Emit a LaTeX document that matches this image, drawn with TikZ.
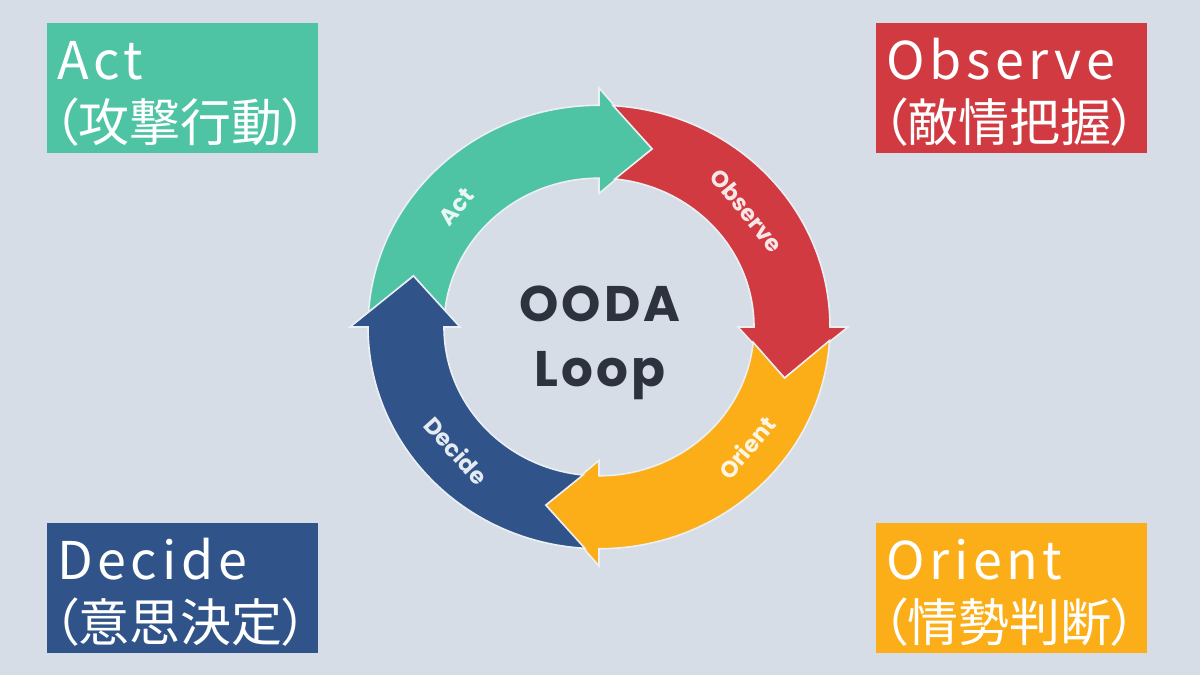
\documentclass[tikz,border=0pt]{standalone}
\usepackage{fontspec}
\usepackage{tikz}
\usetikzlibrary{positioning,calc}
\newfontfamily\cjk{Noto Sans CJK JP}[RawFeature=+palt]
\newfontfamily\cjkwide{Noto Sans CJK JP}[LetterSpace=9]
\newfontfamily\loopfont{Poppins}[LetterSpace=6]
\newfontfamily\lblfont{Poppins}

\definecolor{bgcol}{RGB}{214,221,230}
\definecolor{actgreen}{RGB}{78,196,164}
\definecolor{obsred}{RGB}{208,58,64}
\definecolor{oriorange}{RGB}{251,174,23}
\definecolor{decblue}{RGB}{48,84,138}
\definecolor{inkdark}{RGB}{45,50,62}
\definecolor{rimcol}{RGB}{236,240,244}

% radii of the ring
\def\rO{231}
\def\rI{155}
\def\rM{193}
\def\rHo{249}
\def\rHi{139}

\tikzset{
  box/.style={rectangle, minimum width=271, minimum height=130, inner sep=0pt},
  boxtxt/.style={text=white, inner sep=0pt, font=\cjk\fontsize{51}{60}\selectfont},
  boxen/.style={text=white, inner sep=0pt, font=\cjkwide\fontsize{52}{60}\selectfont},
  ringlbl/.style={text=white, text opacity=0.88, inner sep=0pt, font=\lblfont\bfseries\fontsize{23}{26}\selectfont},
  centertxt/.style={text=inkdark, inner sep=0pt, font=\loopfont\bfseries\fontsize{50}{60}\selectfont},
  rim/.style={draw=rimcol, line width=1.6pt, line join=miter}
}

% one arrow of the ring: colour, tail angle, head angle
\newcommand\oodaarrow[3]{%
  \path[fill=#1, rim] (#2-3.5:\rO) arc[start angle=#2-3.5, end angle=#3, radius=\rO]
    -- (#3:\rHo) -- (#3-16:\rM) -- (#3:\rHi) -- (#3:\rI)
    arc[start angle=#3, end angle=#2-5.9, radius=\rI] -- (#2-16:\rM) -- cycle;}

\begin{document}
\begin{tikzpicture}[x=1pt, y=1pt]
\fill[bgcol] (0,0) rectangle (1200,675);
\useasboundingbox (0,0) rectangle (1200,675);

% the loop
\begin{scope}[shift={(599,348)}, yscale=0.96]
\oodaarrow{actgreen}{180}{90}
\oodaarrow{obsred}{90}{0}
\oodaarrow{oriorange}{0}{-90}
\oodaarrow{decblue}{-90}{-180}
\node[ringlbl, rotate=49] (lblact) at (138.7:190) {Act};
\node[ringlbl, rotate=-51] (lblobs) at (39.4:191) {Observe};
\node[ringlbl, rotate=50] (lblori) at (-40.4:194) {Orient};
\node[ringlbl, rotate=-48] (lbldec) at (222:192) {Decide};
\end{scope}

\node[centertxt, anchor=base] (ooda) at (600,353) {OODA};
\node[centertxt, anchor=base] (loop) at (600,288) {Loop};

% corner boxes
\node[box, fill=actgreen] (actbox) at (182.5,587) {};
\node[box, fill=obsred] (obsbox) at (1011.5,587) {};
\node[box, fill=decblue] (decbox) at (182.5,87) {};
\node[box, fill=oriorange] (oribox) at (1011.5,87) {};

\node[boxen, anchor=base west] (acten) at ([xshift=10, yshift=-57]actbox.north west) {Act};
\node[boxtxt, anchor=base west] (actjp) at ([xshift=6, yshift=-119]actbox.north west) {（攻撃行動）};
\node[boxen, anchor=base west] (obsen) at ([xshift=10, yshift=-57]obsbox.north west) {Observe};
\node[boxtxt, anchor=base west] (obsjp) at ([xshift=6, yshift=-119]obsbox.north west) {（敵情把握）};
\node[boxen, anchor=base west] (decen) at ([xshift=10, yshift=-57]decbox.north west) {Decide};
\node[boxtxt, anchor=base west] (decjp) at ([xshift=6, yshift=-119]decbox.north west) {（意思決定）};
\node[boxen, anchor=base west] (orien) at ([xshift=10, yshift=-57]oribox.north west) {Orient};
\node[boxtxt, anchor=base west] (orijp) at ([xshift=6, yshift=-119]oribox.north west) {（情勢判断）};
\end{tikzpicture}
\end{document}
